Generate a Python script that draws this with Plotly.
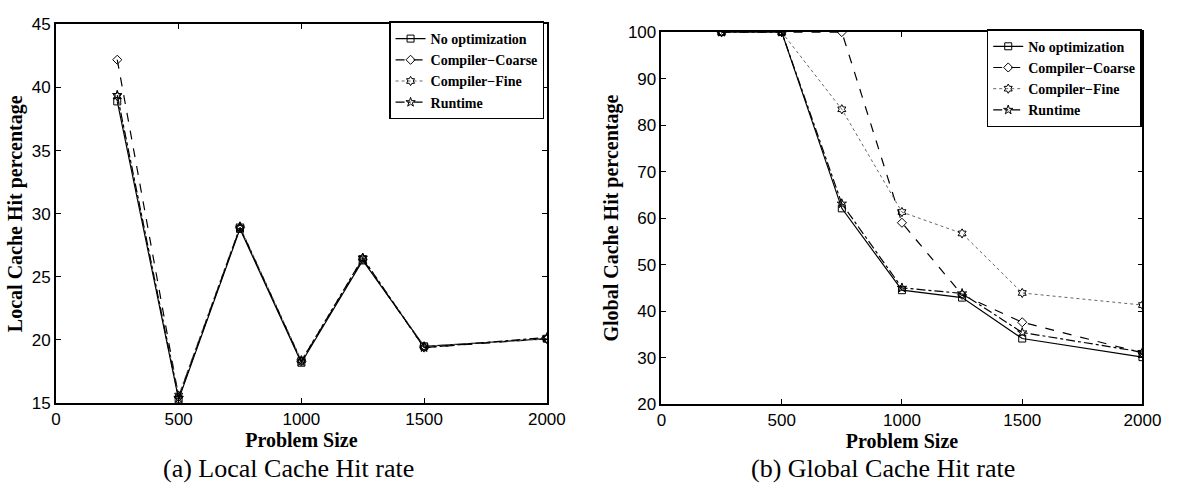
import plotly.graph_objects as go

sizes = [250, 500, 750, 1000, 1250, 1500, 2000]
series_names = ["No optimization", "Compiler\u2212Coarse", "Compiler\u2212Fine", "Runtime"]

local_noopt = [38.9, 15.3, 28.8, 18.2, 26.3, 19.5, 20.1]
local_coarse = [42.2, 15.5, 28.9, 18.3, 26.4, 19.4, 20.1]
local_fine = [39.3, 15.6, 29.0, 18.4, 26.5, 19.5, 20.1]
local_runtime = [39.4, 15.4, 28.9, 18.3, 26.5, 19.4, 20.2]

global_noopt = [100, 100, 62.1, 44.5, 42.9, 34.1, 30.1]
global_coarse = [100, 100, 100, 59.0, 43.5, 37.6, 31.0]
global_fine = [100, 100, 83.4, 61.3, 56.7, 43.9, 41.3]
global_runtime = [100, 100, 63.1, 45.0, 43.8, 35.4, 31.2]

x_ticks = [0, 500, 1000, 1500, 2000]
local_yticks = [15, 20, 25, 30, 35, 40, 45]
global_yticks = [20, 30, 40, 50, 60, 70, 80, 90, 100]

styles = [
    dict(dash="solid", symbol="square-open", color="black", width=1.2),
    dict(dash="dash", symbol="diamond-open", color="black", width=1.2),
    dict(dash="dot", symbol="hexagram-open", color="#666666", width=1.0),
    dict(dash="dashdot", symbol="star-open", color="black", width=1.2),
]

fig = go.Figure()

local_data = [local_noopt, local_coarse, local_fine, local_runtime]
global_data = [global_noopt, global_coarse, global_fine, global_runtime]

for name, ys, st in zip(series_names, local_data, styles):
    fig.add_trace(go.Scatter(
        x=sizes, y=ys, name=name, mode="lines+markers",
        line=dict(color=st["color"], width=st["width"], dash=st["dash"]),
        marker=dict(symbol=st["symbol"], size=7, color="black",
                    line=dict(color="black", width=1)),
        xaxis="x", yaxis="y", legend="legend",
    ))

for name, ys, st in zip(series_names, global_data, styles):
    fig.add_trace(go.Scatter(
        x=sizes, y=ys, name=name, mode="lines+markers",
        line=dict(color=st["color"], width=st["width"], dash=st["dash"]),
        marker=dict(symbol=st["symbol"], size=7, color="black",
                    line=dict(color="black", width=1)),
        xaxis="x2", yaxis="y2", legend="legend2",
    ))

serif = "Liberation Serif, Times New Roman, serif"
tickfont = dict(family="Liberation Sans, Arial, sans-serif", size=17, color="black")
titlefont = dict(family=serif, size=20, color="black")

axis_common = dict(
    showline=True, linecolor="black", linewidth=1.5, mirror="ticks",
    ticks="inside", ticklen=5, tickcolor="black", tickwidth=1,
    showgrid=False, zeroline=False, tickfont=tickfont,
)

legend_common = dict(
    bgcolor="white", bordercolor="black", borderwidth=1.5,
    font=dict(family=serif, size=14, color="black", weight="bold"),
    xanchor="left", yanchor="top", tracegroupgap=0, itemwidth=30,
    traceorder="normal",
)

fig.update_layout(
    width=1186, height=491,
    margin=dict(l=0, r=0, t=0, b=0),
    paper_bgcolor="white", plot_bgcolor="white",
    showlegend=True,
    xaxis=dict(domain=[0.0438, 0.4663], range=[0, 2000], tickvals=x_ticks,
               title=dict(text="<b>Problem Size</b>", font=titlefont, standoff=0),
               anchor="y", **axis_common),
    yaxis=dict(domain=[0.165, 0.9674], range=[15, 45], tickvals=local_yticks,
               title=dict(text="<b>Local Cache Hit percentage</b>", font=titlefont, standoff=4),
               anchor="x", **axis_common),
    xaxis2=dict(domain=[0.5649, 0.9789], range=[0, 2000], tickvals=x_ticks,
                title=dict(text="<b>Problem Size</b>", font=titlefont, standoff=0),
                anchor="y2", **axis_common),
    yaxis2=dict(domain=[0.1629, 0.9511], range=[20, 100], tickvals=global_yticks,
                title=dict(text="<b>Global Cache Hit percentage</b>", font=titlefont, standoff=4),
                anchor="x2", **axis_common),
    legend=dict(x=392 / 1186, y=1 - 13 / 491, **legend_common),
    legend2=dict(x=1002 / 1186, y=1 - 21 / 491, **legend_common),
    annotations=[
        dict(text="(a) Local Cache Hit rate", x=289 / 1186, y=1 - 478 / 491,
             xref="paper", yref="paper", showarrow=False, xanchor="center", yanchor="middle",
             font=dict(family=serif, size=26, color="black")),
        dict(text="(b) Global Cache Hit rate", x=896 / 1186, y=1 - 478 / 491,
             xref="paper", yref="paper", showarrow=False, xanchor="center", yanchor="middle",
             font=dict(family=serif, size=26, color="black")),
    ],
)

fig.write_html("out.html")
